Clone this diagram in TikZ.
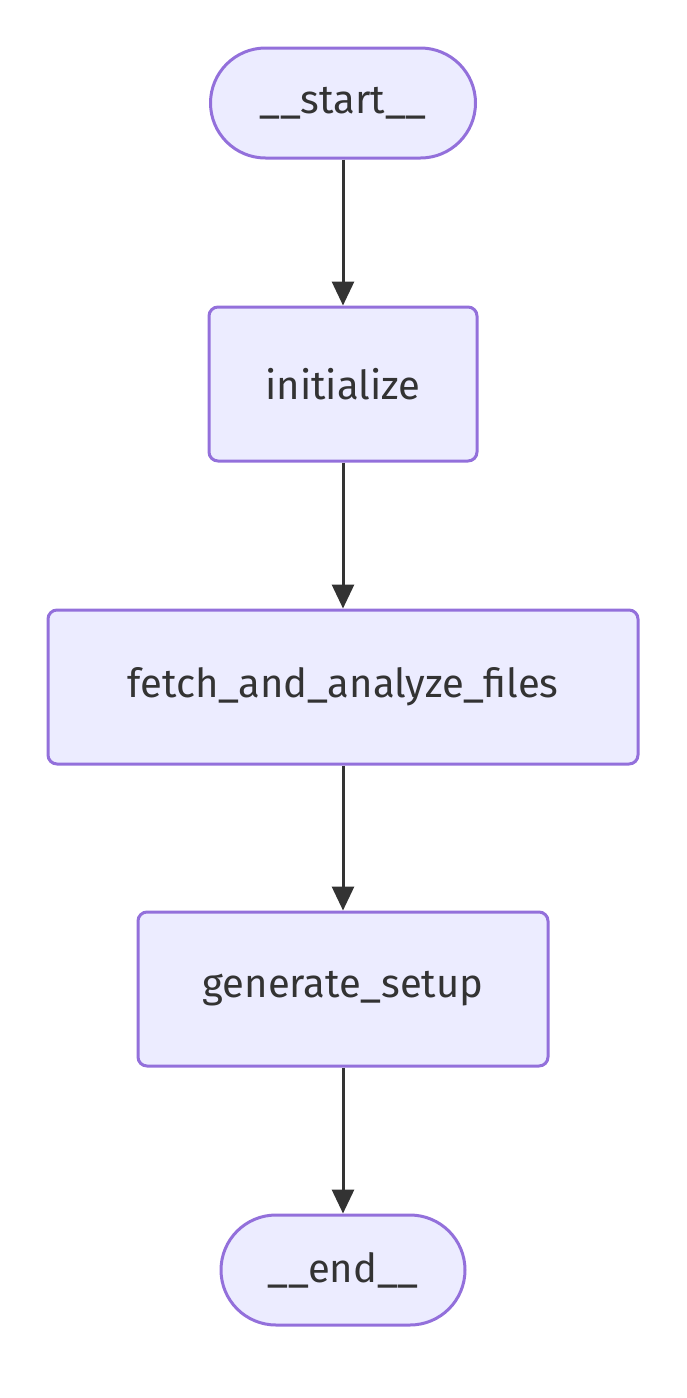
\documentclass[tikz,border=0pt]{standalone}
\usepackage{fontspec}
\setmainfont{Fira Sans}
\usetikzlibrary{positioning, arrows.meta}
\definecolor{nodefill}{HTML}{ECECFF}
\definecolor{nodeline}{HTML}{9370DB}
\definecolor{edgeline}{HTML}{333333}
\tikzset{
  box/.style = {rectangle, rounded corners=9pt, draw=nodeline, fill=nodefill,
    line width=3pt, text=edgeline, font=\fontsize{40}{48}\selectfont,
    inner sep=0pt, minimum height=154pt},
  term/.style = {box, rounded corners=55pt, minimum height=110pt},
  flow/.style = {draw=edgeline, line width=3pt,
    -{Triangle[length=24pt, width=22pt]}}
}

\begin{document}
\begin{tikzpicture}[x=1pt, y=-1pt]
        \useasboundingbox (0,0) rectangle (687,1398);
        \node (start) [term, minimum width=265pt] at (343,103) {\_\_start\_\_};
        \node (init) [box, minimum width=268pt] at (343,384) {initialize};
        \node (fetch) [box, minimum width=590pt] at (343,687) {fetch\_and\_analyze\_files};
        \node (gen) [box, minimum width=410pt] at (343,989) {generate\_setup};
        \node (end) [term, minimum width=244pt] at (343,1270) {\_\_end\_\_};
        \draw [flow] (start) -- (init);
        \draw [flow] (init) -- (fetch);
        \draw [flow] (fetch) -- (gen);
        \draw [flow] (gen) -- (end);
    \end{tikzpicture}
\end{document}
